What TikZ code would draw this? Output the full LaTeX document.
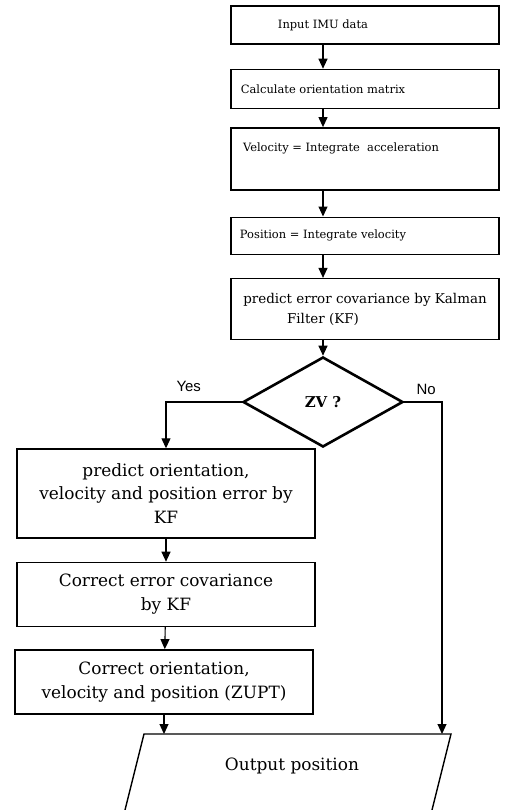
\documentclass[tikz,border=0pt]{standalone}
\usepackage{fontspec}
\setmainfont{DejaVu Serif}
\newfontfamily\labelfont{Liberation Sans}
\usetikzlibrary{arrows.meta,positioning,shapes.geometric}

\begin{document}
\begin{tikzpicture}[x=1bp,y=-1bp,>={Triangle[length=10bp,width=9bp]},line width=1.1bp,
	node distance=23bp,
	topbox/.style={draw,line width=1.4bp,minimum width=268bp,inner sep=0pt,
		font=\fontsize{11.5}{18}\selectfont},
	sidebox/.style={draw,line width=1.4bp,minimum width=298bp,inner sep=0pt,align=center,
		font=\fontsize{17}{24}\selectfont},
	decision/.style={diamond,draw,line width=2.6bp,minimum width=160bp,minimum height=90bp,
		inner sep=0pt,font=\bfseries\fontsize{15}{18}\selectfont},
	yesno/.style={font=\labelfont\fontsize{15}{18}\selectfont}]
	\useasboundingbox (0,0) rectangle (507,810);

	% main chain
	\node[topbox,minimum height=38bp] (in) at (365,25) {Input IMU data\hspace*{84bp}};
	\node[topbox,minimum height=39bp,below=24bp of in] (calc) {Calculate orientation matrix\hspace*{84bp}};
	\node[topbox,minimum height=62bp,align=center,below=18bp of calc] (vel)
		{Velocity = Integrate~~acceleration\hspace*{48bp}\\\strut};
	\node[topbox,minimum height=37bp,below=26bp of vel] (pos) {Position = Integrate velocity\hspace*{84bp}};
	\node[topbox,minimum height=61bp,align=center,below=of pos,
		font=\fontsize{13.5}{20}\selectfont] (kf)
		{predict error covariance by Kalman\\Filter (KF)\hspace*{84bp}};
	\node[decision] (zv) at (323,402) {ZV ?};

	% zero velocity branch
	\node[sidebox,minimum height=89bp] (pred) at (166,493.5)
		{predict orientation,\\velocity and position error by\\KF};
	\node[sidebox,minimum height=64bp,below=of pred] (corr) {Correct error covariance\\by KF};
	\node[sidebox,minimum height=64bp,below=22bp of corr,xshift=-2bp] (upd)
		{Correct orientation,\\velocity and position (ZUPT)};

	% output parallelogram, its lower edge runs off the page
	\coordinate (outtl) at (144,734);
	\coordinate (outtr) at (451,734);
	\draw[line width=1.4bp] (outtl) -- (outtr) -- ++(-30,120) -- ++(-307,0) -- cycle;
	\node[font=\fontsize{17}{24}\selectfont] (out) at (292,766) {Output position};

	\draw[->] (in.south -| zv.north) -- (calc.north -| zv.north);
	\draw[->] (calc.south -| zv.north) -- (vel.north -| zv.north);
	\draw[->] (vel.south -| zv.north) -- (pos.north -| zv.north);
	\draw[->] (pos.south -| zv.north) -- (kf.north -| zv.north);
	\draw[->] (kf.south -| zv.north) -- (zv.north);

	\draw[->] (zv.west) -| node[yesno,pos=0.35,above=6bp] {Yes} (pred.north);
	\draw[->] (zv.east) -| node[yesno,pos=0.29,above=3bp] {No} ([xshift=-9bp]outtr);
	\draw[->] (pred) -- (corr);
	\draw[->] (corr) -- (upd);
	\draw[->] (upd.south) -- (upd.south |- outtl);
\end{tikzpicture}
\end{document}
